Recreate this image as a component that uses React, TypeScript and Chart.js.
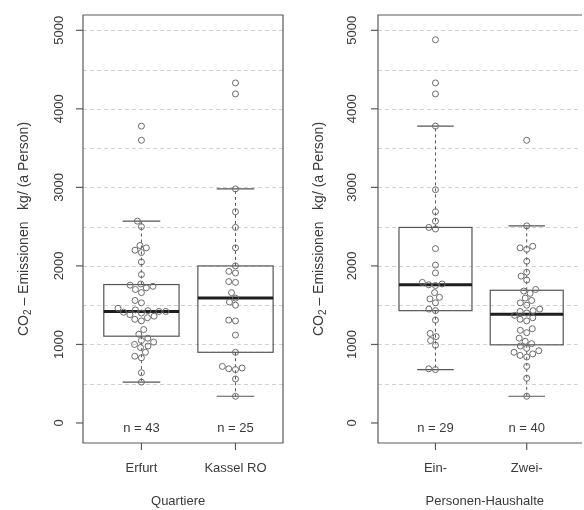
import React, { useEffect, useRef } from "react";
import { Chart, registerables } from "chart.js";

Chart.register(...registerables);

// ---------- data ----------
const leftCategories = ["Erfurt", "Kassel RO"];
const leftAxisTitle = "Quartiere";
const erfurt = [
  520, 640, 830, 850, 900, 960, 980, 1000, 1030, 1050, 1080, 1130, 1190, 1300,
  1320, 1340, 1360, 1380, 1400, 1410, 1420, 1420, 1430, 1440, 1460, 1530, 1560,
  1660, 1700, 1720, 1740, 1755, 1770, 1890, 2050, 2170, 2200, 2230, 2260, 2500,
  2570, 3600, 3780,
];
const kasselRO = [
  340, 560, 680, 690, 700, 720, 900, 1120, 1300, 1310, 1500, 1540, 1590, 1660,
  1790, 1800, 1910, 1930, 2000, 2230, 2490, 2690, 2980, 4190, 4330,
];

const rightCategories = ["Ein-", "Zwei-"];
const rightAxisTitle = "Personen-Haushalte";
const einPersonen = [
  680, 690, 990, 1050, 1100, 1140, 1310, 1430, 1450, 1530, 1580, 1600, 1660,
  1750, 1760, 1770, 1790, 1910, 2010, 2220, 2470, 2490, 2570, 2690, 2970, 3780,
  4190, 4330, 4880,
];
const zweiPersonen = [
  340, 570, 720, 840, 860, 880, 900, 920, 950, 980, 1010, 1040, 1080, 1150,
  1180, 1200, 1300, 1320, 1340, 1370, 1400, 1420, 1430, 1450, 1500, 1530, 1560,
  1590, 1650, 1680, 1700, 1820, 1870, 1920, 2060, 2210, 2230, 2250, 2510, 3600,
];

const yTickValues = [0, 1000, 2000, 3000, 4000, 5000];
const yGridValues = [500, 1000, 1500, 2000, 2500, 3000, 3500, 4000, 4500, 5000];
const yMin = -255;
const yMax = 5195;

// ---------- helpers ----------
const FONT = "'Liberation Sans', Arial, sans-serif";
const TEXT = "#3a3a3a";
const FRAME = "#5a5a5a";

function fivenum(arr: number[]) {
  const x = [...arr].sort((a, b) => a - b);
  const n = x.length;
  const n4 = Math.floor((n + 3) / 2) / 2;
  const d = [1, n4, (n + 1) / 2, n + 1 - n4, n];
  return d.map((di) => 0.5 * (x[Math.floor(di) - 1] + x[Math.ceil(di) - 1]));
}

function boxStats(arr: number[]) {
  const [, q1, med, q3] = fivenum(arr);
  const iqr = q3 - q1;
  const hi = Math.max(...arr.filter((v) => v <= q3 + 1.5 * iqr));
  const lo = Math.min(...arr.filter((v) => v >= q1 - 1.5 * iqr));
  return { q1, med, q3, hi, lo };
}

function swarmOffsets(pys: number[], d: number): number[] {
  const order = pys.map((_, i) => i).sort((a, b) => pys[b] - pys[a]);
  const placed: { x: number; y: number }[] = [];
  const off = new Array(pys.length).fill(0);
  for (const i of order) {
    const y = pys[i];
    const cands = [0];
    for (const p of placed) {
      const dy = Math.abs(p.y - y);
      if (dy < d) {
        const dx = Math.sqrt(d * d - dy * dy);
        cands.push(p.x + dx, p.x - dx);
      }
    }
    cands.sort((a, b) => Math.abs(a) - Math.abs(b) || a - b);
    let chosen = 0;
    for (const c of cands) {
      let ok = true;
      for (const p of placed) {
        const dx = p.x - c;
        const dy = p.y - y;
        if (dx * dx + dy * dy < d * d - 0.01) {
          ok = false;
          break;
        }
      }
      if (ok) {
        chosen = c;
        break;
      }
    }
    off[i] = chosen;
    placed.push({ x: chosen, y });
  }
  return off;
}

type PanelProps = {
  categories: string[];
  groups: number[][];
  axisTitle: string;
  axisTitleX: number;
  width: number;
  padLeft: number;
  padRight: number;
  xMin: number;
  xMax: number;
  rightBorder: boolean;
  tickLabelOffset: number;
  left: number;
};

function Panel(props: PanelProps) {
  const ref = useRef<HTMLCanvasElement | null>(null);

  useEffect(() => {
    const canvas = ref.current;
    if (!canvas) return;
    const { categories, groups, axisTitle } = props;

    const panelPlugin = {
      id: "boxpanel",
      beforeDatasetsDraw(chart: any) {
        const ctx = chart.ctx as CanvasRenderingContext2D;
        const { left, right } = chart.chartArea;
        const xs = chart.scales.x;
        const ys = chart.scales.y;
        ctx.save();
        // grid
        ctx.strokeStyle = "#d2d2d2";
        ctx.lineWidth = 1;
        ctx.setLineDash([4, 3]);
        for (const v of yGridValues) {
          const y = Math.round(ys.getPixelForValue(v)) + 0.5;
          ctx.beginPath();
          ctx.moveTo(left, y);
          ctx.lineTo(right, y);
          ctx.stroke();
        }
        // boxes
        groups.forEach((g, i) => {
          const s = boxStats(g);
          const cx = xs.getPixelForValue(i + 1);
          const hw = xs.getPixelForValue(i + 1.4) - cx;
          const cw = xs.getPixelForValue(i + 1.2) - cx;
          const py = (v: number) => ys.getPixelForValue(v);
          // whiskers
          ctx.setLineDash([3, 3]);
          ctx.strokeStyle = "#555";
          ctx.lineWidth = 1;
          ctx.beginPath();
          ctx.moveTo(cx, py(s.q3));
          ctx.lineTo(cx, py(s.hi));
          ctx.moveTo(cx, py(s.q1));
          ctx.lineTo(cx, py(s.lo));
          ctx.stroke();
          ctx.setLineDash([]);
          // caps
          ctx.lineWidth = 1.2;
          ctx.beginPath();
          ctx.moveTo(cx - cw, py(s.hi));
          ctx.lineTo(cx + cw, py(s.hi));
          ctx.moveTo(cx - cw, py(s.lo));
          ctx.lineTo(cx + cw, py(s.lo));
          ctx.stroke();
          // box
          ctx.strokeStyle = "#555";
          ctx.lineWidth = 1.2;
          ctx.strokeRect(cx - hw, py(s.q3), 2 * hw, py(s.q1) - py(s.q3));
          // median
          ctx.strokeStyle = "#1e1e1e";
          ctx.lineWidth = 3;
          ctx.beginPath();
          ctx.moveTo(cx - hw, py(s.med));
          ctx.lineTo(cx + hw, py(s.med));
          ctx.stroke();
        });
        ctx.restore();
      },
      afterDraw(chart: any) {
        const ctx = chart.ctx as CanvasRenderingContext2D;
        const { left, right, top, bottom } = chart.chartArea;
        const xs = chart.scales.x;
        const ys = chart.scales.y;
        ctx.save();
        ctx.setLineDash([]);
        // frame
        ctx.strokeStyle = FRAME;
        ctx.lineWidth = 1.2;
        ctx.beginPath();
        if (props.rightBorder) {
          ctx.rect(left, top, right - left, bottom - top);
        } else {
          ctx.moveTo(right + 2, top);
          ctx.lineTo(left, top);
          ctx.lineTo(left, bottom);
          ctx.lineTo(right + 2, bottom);
        }
        ctx.stroke();
        // y ticks
        ctx.fillStyle = TEXT;
        ctx.font = `13px ${FONT}`;
        ctx.textAlign = "center";
        ctx.textBaseline = "middle";
        for (const v of yTickValues) {
          const y = ys.getPixelForValue(v);
          ctx.beginPath();
          ctx.moveTo(left - 7, y);
          ctx.lineTo(left, y);
          ctx.stroke();
          ctx.save();
          ctx.translate(left - props.tickLabelOffset, y);
          ctx.rotate(-Math.PI / 2);
          ctx.fillText(String(v), 0, 0);
          ctx.restore();
        }
        // x ticks + labels + n
        categories.forEach((c, i) => {
          const x = xs.getPixelForValue(i + 1);
          ctx.beginPath();
          ctx.moveTo(x, bottom);
          ctx.lineTo(x, bottom + 7);
          ctx.stroke();
          ctx.fillText(c, x, bottom + 25);
          ctx.fillText(`n = ${groups[i].length}`, x, ys.getPixelForValue(0) + 5);
        });
        // x axis title
        ctx.fillText(axisTitle, xs.getPixelForValue(props.axisTitleX), bottom + 58);
        // y axis title with subscript
        ctx.save();
        ctx.translate(left - 58.5, (top + bottom) / 2);
        ctx.rotate(-Math.PI / 2);
        ctx.textAlign = "left";
        const big = `14px ${FONT}`;
        const small = `10px ${FONT}`;
        const p1 = "CO";
        const p2 = "2";
        const p3 = " \u2013 Emissionen   kg/ (a Person)";
        ctx.font = big;
        const w1 = ctx.measureText(p1).width;
        const w3 = ctx.measureText(p3).width;
        ctx.font = small;
        const w2 = ctx.measureText(p2).width;
        let x0 = -(w1 + w2 + w3) / 2;
        ctx.font = big;
        ctx.fillText(p1, x0, 0);
        x0 += w1;
        ctx.font = small;
        ctx.fillText(p2, x0, 4);
        x0 += w2;
        ctx.font = big;
        ctx.fillText(p3, x0, 0);
        ctx.restore();
        ctx.restore();
      },
    };

    const chart = new Chart(canvas, {
      type: "scatter",
      data: {
        datasets: groups.map((g, i) => ({
          data: g.map((v) => ({ x: i + 1, y: v })),
          pointStyle: "circle",
          pointRadius: 3,
          pointHoverRadius: 3,
          borderColor: "#6a6a6a",
          backgroundColor: "rgba(255,255,255,0)",
          borderWidth: 1,
        })),
      },
      options: {
        responsive: false,
        animation: false,
        events: [],
        layout: {
          padding: { left: props.padLeft, right: props.padRight, top: 15, bottom: 67 },
        },
        scales: {
          x: { type: "linear", min: props.xMin, max: props.xMax, display: false },
          y: { type: "linear", min: yMin, max: yMax, display: false },
        },
        plugins: { legend: { display: false }, tooltip: { enabled: false } },
      },
      plugins: [panelPlugin],
    });

    // beeswarm-like layout in pixel space
    const xs = chart.scales.x;
    const ys = chart.scales.y;
    groups.forEach((g, i) => {
      const pys = g.map((v) => ys.getPixelForValue(v));
      const offs = swarmOffsets(pys, 6.8);
      const cx = xs.getPixelForValue(i + 1);
      (chart.data.datasets[i] as any).data = g.map((v, k) => ({
        x: xs.getValueForPixel(cx + offs[k]),
        y: v,
      }));
    });
    chart.update("none");

    return () => chart.destroy();
  }, []);

  return (
    <canvas
      ref={ref}
      width={props.width}
      height={510}
      style={{ position: "absolute", left: props.left, top: 0, width: props.width, height: 510 }}
    />
  );
}

export default function App() {
  useEffect(() => {
    document.body.style.margin = "0";
  }, []);
  return (
    <div style={{ position: "relative", width: 584, height: 510, overflow: "hidden", background: "#fff" }}>
      <Panel
        categories={leftCategories}
        groups={[erfurt, kasselRO]}
        axisTitle={leftAxisTitle}
        axisTitleX={1.39}
        width={290}
        padLeft={83}
        padRight={7}
        xMin={0.379}
        xMax={2.505}
        rightBorder={true}
        tickLabelOffset={24}
        left={0}
      />
      <Panel
        categories={rightCategories}
        groups={[einPersonen, zweiPersonen]}
        axisTitle={rightAxisTitle}
        axisTitleX={1.54}
        width={294}
        padLeft={88}
        padRight={0}
        xMin={0.37}
        xMax={2.584}
        rightBorder={false}
        tickLabelOffset={26}
        left={290}
      />
    </div>
  );
}
